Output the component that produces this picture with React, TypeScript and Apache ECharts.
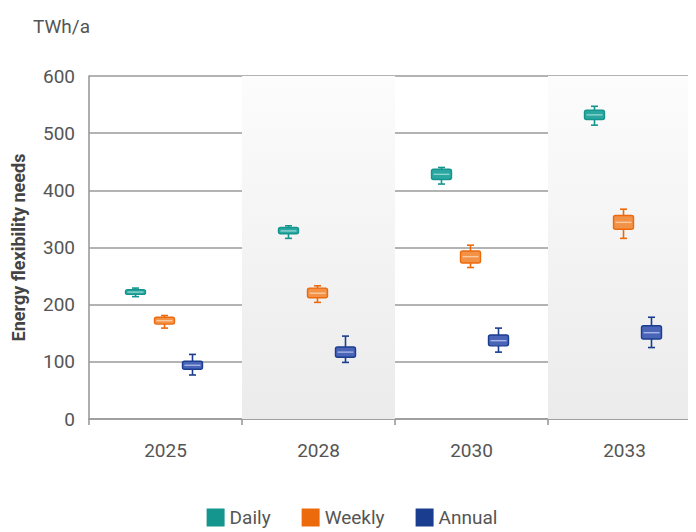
import React, { useEffect, useRef } from "react";
import * as echarts from "echarts";

const categories = ["2025", "2028", "2030", "2033"];
const yTicks = { min: 0, max: 600, interval: 100 };

// [min, Q1, median, Q3, max]
const dailyValues = [
  [214, 218, 222, 226, 229],
  [316, 324, 329, 335, 338],
  [411, 419, 428, 437, 440],
  [514, 524, 532, 540, 547],
];
const weeklyValues = [
  [159, 166, 172, 178, 181],
  [204, 212, 220, 229, 233],
  [265, 273, 284, 294, 304],
  [316, 332, 344, 356, 367],
];
const annualValues = [
  [77, 87, 94, 101, 113],
  [99, 108, 117, 126, 145],
  [117, 128, 137, 147, 159],
  [125, 140, 151, 163, 178],
];
const shadedColumns = [null, 600, null, 600];

const seriesDefs = [
  { name: "Daily", values: dailyValues, color: "#14968f", fill: "#2aa7a0", median: "#8fd3cf", offset: -30 },
  { name: "Weekly", values: weeklyValues, color: "#ec6a0c", fill: "#f39247", median: "#fbc9a0", offset: -1 },
  { name: "Annual", values: annualValues, color: "#1a3d8f", fill: "#4a64b8", median: "#a8b6e3", offset: 27 },
];

export default function App() {
  const ref = useRef<HTMLDivElement>(null);
  useEffect(() => {
    if (!ref.current) return;
    const chart = echarts.init(ref.current, null, { renderer: "svg" });
    const boxSeries = seriesDefs.map((s) => ({
      name: s.name,
      type: "custom",
      z: 5,
      itemStyle: { color: s.color },
      encode: { x: 0, y: [1, 2, 3, 4, 5] },
      data: s.values.map((v, i) => [i, ...v]),
      renderItem: (params: any, api: any) => {
        const ci = api.value(0);
        const pMin = api.coord([ci, api.value(1)]);
        const pQ1 = api.coord([ci, api.value(2)]);
        const pMed = api.coord([ci, api.value(3)]);
        const pQ3 = api.coord([ci, api.value(4)]);
        const pMax = api.coord([ci, api.value(5)]);
        const cx = pMin[0] + s.offset;
        const bw = 20;
        const cw = 7;
        const lineStyle = { stroke: s.color, lineWidth: 1.6 };
        return {
          type: "group",
          children: [
            { type: "line", shape: { x1: cx, y1: pMax[1], x2: cx, y2: pQ3[1] }, style: lineStyle },
            { type: "line", shape: { x1: cx, y1: pQ1[1], x2: cx, y2: pMin[1] }, style: lineStyle },
            { type: "line", shape: { x1: cx - cw / 2, y1: pMax[1], x2: cx + cw / 2, y2: pMax[1] }, style: lineStyle },
            { type: "line", shape: { x1: cx - cw / 2, y1: pMin[1], x2: cx + cw / 2, y2: pMin[1] }, style: lineStyle },
            {
              type: "rect",
              shape: { x: cx - bw / 2, y: pQ3[1], width: bw, height: pQ1[1] - pQ3[1], r: 2 },
              style: { fill: s.fill, stroke: s.color, lineWidth: 1.4 },
            },
            {
              type: "line",
              shape: { x1: cx - bw / 2 + 2, y1: pMed[1], x2: cx + bw / 2 - 2, y2: pMed[1] },
              style: { stroke: s.median, lineWidth: 1.4 },
            },
          ],
        };
      },
    }));

    chart.setOption({
      animation: false,
      textStyle: { fontFamily: "Roboto" },
      grid: { left: 81, top: 68, width: 612, height: 343, containLabel: false, outerBoundsMode: "none" },
      graphic: [
        {
          type: "text",
          left: 25,
          top: 9,
          style: { text: "TWh/a", fontSize: 19, fill: "#555", fontFamily: "Roboto" },
        },
      ],
      legend: {
        data: seriesDefs.map((s) => s.name),
        bottom: 0,
        left: "center",
        icon: "rect",
        itemWidth: 18,
        itemHeight: 18,
        itemGap: 31,
        textStyle: { fontSize: 19, color: "#555", fontFamily: "Roboto" },
      },
      xAxis: {
        type: "category",
        data: categories,
        boundaryGap: true,
        axisLine: { show: true, lineStyle: { color: "#9a9a9a", width: 1.6 } },
        axisTick: { show: true, length: 6, lineStyle: { color: "#9a9a9a", width: 1.6 } },
        axisLabel: { fontSize: 19, color: "#555", margin: 22 },
        splitLine: { show: false },
      },
      yAxis: {
        type: "value",
        min: yTicks.min,
        max: yTicks.max,
        interval: yTicks.interval,
        name: "Energy flexibility needs",
        nameLocation: "middle",
        nameRotate: 90,
        nameGap: 62,
        nameTextStyle: { fontSize: 18, fontWeight: "bold", color: "#444", fontFamily: "Roboto" },
        axisLine: { show: true, lineStyle: { color: "#9a9a9a", width: 1.6 } },
        axisTick: { show: false },
        axisLabel: { fontSize: 19, color: "#555", margin: 14 },
        splitLine: { show: true, lineStyle: { color: "#9a9a9a", width: 1.6 } },
      },
      series: [
        {
          name: "bg",
          type: "bar",
          silent: true,
          barWidth: "100%",
          z: 0,
          data: shadedColumns,
          itemStyle: {
            color: new echarts.graphic.LinearGradient(0, 0, 0, 1, [
              { offset: 0, color: "#fcfcfc" },
              { offset: 1, color: "#ebebeb" },
            ]),
          },
        },
        ...boxSeries,
      ],
    });
    return () => chart.dispose();
  }, []);
  return <div ref={ref} style={{ width: 688, height: 524 }} />;
}
